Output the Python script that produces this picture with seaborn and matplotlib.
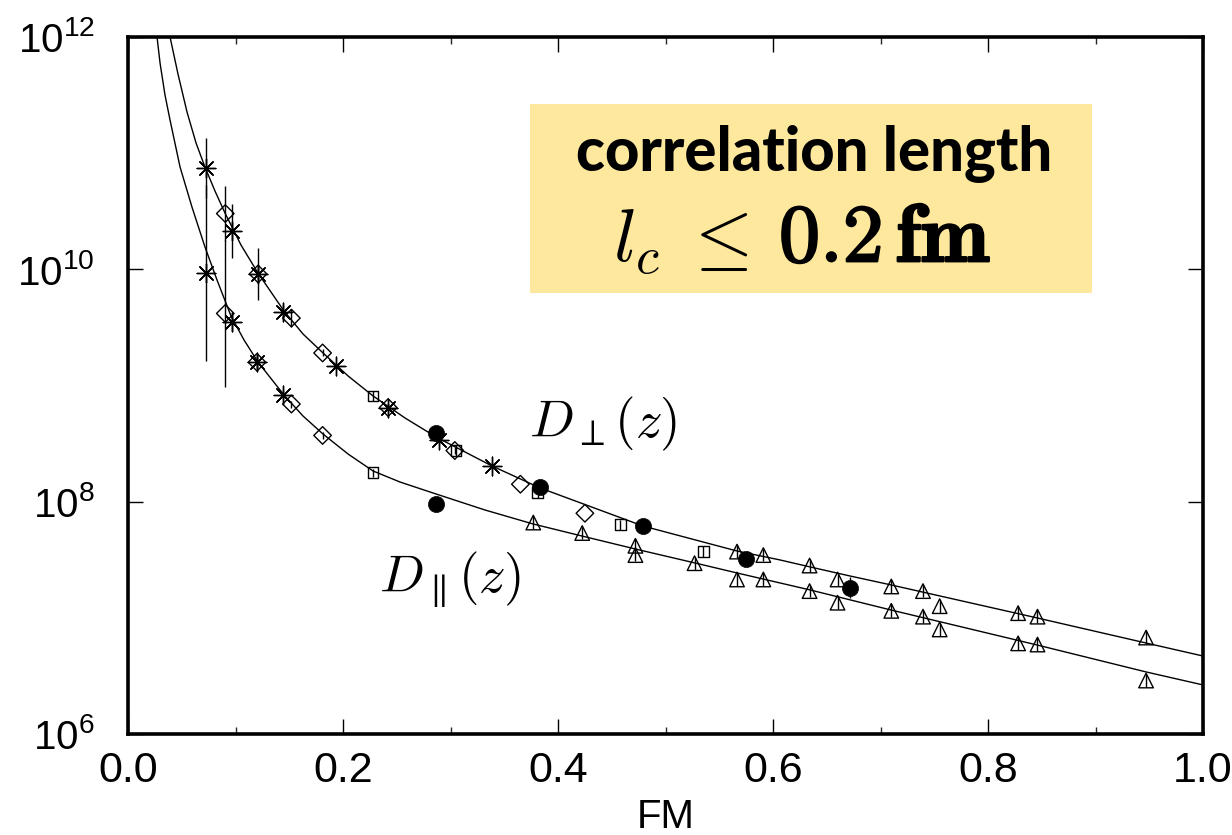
import numpy as np
import pandas as pd
import seaborn as sns
import matplotlib
matplotlib.use("Agg")
import matplotlib.pyplot as plt
import matplotlib.patheffects as pe
from matplotlib.patches import Rectangle
from matplotlib.ticker import FixedLocator, MultipleLocator, LogFormatterMathtext, NullLocator

# ---------------- data (y values stored as log10) ----------------
fit_perp_x = [0.0391, 0.0465, 0.0549, 0.0633, 0.0716, 0.0809, 0.0902, 0.1051, 0.1209, 0.1451,
              0.1628, 0.1814, 0.2047, 0.2279, 0.2577, 0.2865, 0.3386, 0.3833, 0.4791, 0.5665,
              0.6065, 0.6344, 0.6716, 0.7098, 0.8456, 0.9470, 1.0]
fit_perp_logy = [12.000, 11.681, 11.354, 11.087, 10.880, 10.674, 10.485, 10.209, 9.968, 9.641,
                 9.443, 9.280, 9.082, 8.910, 8.720, 8.557, 8.307, 8.118, 7.790, 7.575,
                 7.498, 7.438, 7.360, 7.283, 6.999, 6.783, 6.671]
fit_par_x = [0.0270, 0.0298, 0.0344, 0.0391, 0.0484, 0.0595, 0.0716, 0.0828, 0.0958, 0.1079,
             0.1209, 0.1451, 0.1628, 0.1814, 0.2047, 0.2279, 0.2530, 0.2865, 0.3321, 0.3767,
             0.4223, 0.4716, 0.5274, 0.5665, 0.6065, 0.6344, 0.7098, 0.8456, 0.9470, 1.0]
fit_par_logy = [12.000, 11.776, 11.501, 11.285, 10.881, 10.536, 10.192, 9.908, 9.598, 9.392,
                9.202, 8.918, 8.737, 8.582, 8.410, 8.264, 8.169, 8.066, 7.928, 7.808,
                7.704, 7.593, 7.472, 7.386, 7.300, 7.240, 7.067, 6.766, 6.534, 6.422]

ast_perp_x = [0.0726, 0.0967, 0.121, 0.144, 0.1935, 0.242, 0.289, 0.339]
ast_perp_logy = [10.87, 10.33, 9.96, 9.63, 9.17, 8.81, 8.53, 8.31]
ast_perp_err = [0.26, 0.23, 0.22, 0.06, 0.03, 0.03, 0.03, 0.03]
ast_par_x = [0.0726, 0.0967, 0.120, 0.144]
ast_par_logy = [9.97, 9.55, 9.20, 8.92]
ast_par_err = [0.76, 0.08, 0.07, 0.04]

dia_perp_x = [0.0905, 0.121, 0.152, 0.181, 0.242, 0.304, 0.365, 0.425]
dia_perp_logy = [10.48, 9.96, 9.58, 9.28, 8.81, 8.44, 8.15, 7.90]
dia_perp_err = [0.24, 0.05, 0.08, 0.03, 0.03, 0.03, 0.0, 0.0]
dia_par_x = [0.0905, 0.120, 0.152, 0.181]
dia_par_logy = [9.62, 9.20, 8.84, 8.57]
dia_par_err = [0.63, 0.05, 0.03, 0.03]

sq_perp_x = [0.228, 0.305, 0.381, 0.458, 0.535]
sq_perp_logy = [8.91, 8.44, 8.08, 7.80, 7.57]
sq_par_x = [0.228]
sq_par_logy = [8.25]

circ_perp_x = [0.2865, 0.383, 0.479, 0.575, 0.672]
circ_perp_logy = [8.59, 8.13, 7.79, 7.51, 7.26]
circ_perp_err = [0.0, 0.0, 0.0, 0.0, 0.09]
circ_par_x = [0.2865]
circ_par_logy = [7.98]

tri_perp_x = [0.5665, 0.591, 0.634, 0.660, 0.710, 0.7395, 0.755, 0.828, 0.846, 0.947]
tri_perp_logy = [7.57, 7.54, 7.45, 7.33, 7.27, 7.23, 7.10, 7.04, 7.01, 6.83]
tri_par_x = [0.377, 0.4225, 0.472, 0.472, 0.527, 0.5665, 0.591, 0.634, 0.660, 0.710, 0.7395,
             0.755, 0.828, 0.846, 0.947]
tri_par_logy = [7.82, 7.73, 7.62, 7.54, 7.47, 7.33, 7.33, 7.23, 7.13, 7.06, 7.01,
                6.90, 6.78, 6.77, 6.46]

x_ticks = [0.0, 0.2, 0.4, 0.6, 0.8, 1.0]
x_tick_labels = ["0.0", "0.2", "0.4", "0.6", "0.8", "1.0"]
y_tick_exps = [6, 8, 10, 12]
x_label = "FM"
box_title = "correlation length"
box_formula_left = r"$l_c\;\leq$"
box_formula_right = r"$\mathbf{0.2\,fm}$"
label_perp = r"$D_\perp(z)$"
label_par = r"$D_\parallel(z)$"

# ---------------- style ----------------
sns.set_theme(style="ticks")
tickfont = "Liberation Sans"
plt.rcParams["font.family"] = [tickfont, "DejaVu Sans"]
plt.rcParams["mathtext.fontset"] = "custom"
plt.rcParams["mathtext.rm"] = tickfont
plt.rcParams["mathtext.it"] = tickfont + ":italic"
plt.rcParams["mathtext.bf"] = tickfont + ":bold"

fig = plt.figure(figsize=(12.32, 8.35), dpi=100)
ax = fig.add_axes([0.1039, 0.1210, 0.8726, 0.8347])
ax.set_yscale("log")


def pw(a):
    return 10 ** np.asarray(a, dtype=float)


# fit curves
sns.lineplot(x=fit_perp_x, y=pw(fit_perp_logy), color="black", lw=1.0, sort=False,
             estimator=None, ax=ax)
sns.lineplot(x=fit_par_x, y=pw(fit_par_logy), color="black", lw=1.0, sort=False,
             estimator=None, ax=ax)


def errbars(xs, logy, err):
    logy = np.asarray(logy, float)
    err = np.asarray(err, float)
    y = 10 ** logy
    lo = y - 10 ** (logy - err)
    hi = 10 ** (logy + err) - y
    ax.errorbar(xs, y, yerr=[lo, hi], fmt="none", ecolor="black", elinewidth=1.0, capsize=0,
                zorder=3)


errbars(ast_perp_x, ast_perp_logy, ast_perp_err)
errbars(ast_par_x, ast_par_logy, ast_par_err)
errbars(dia_perp_x, dia_perp_logy, dia_perp_err)
errbars(dia_par_x, dia_par_logy, dia_par_err)
errbars(circ_perp_x, circ_perp_logy, circ_perp_err)
errbars(sq_perp_x, sq_perp_logy, [0.045] * len(sq_perp_x))
errbars(sq_par_x, sq_par_logy, [0.035] * len(sq_par_x))
errbars(tri_perp_x, tri_perp_logy, [0.055] * len(tri_perp_x))
errbars(tri_par_x, tri_par_logy, [0.055] * len(tri_par_x))

open_kw = dict(facecolor="none", edgecolor="black", linewidth=1.0, ax=ax, zorder=4, legend=False)

for xs, ly in [(ast_perp_x, ast_perp_logy), (ast_par_x, ast_par_logy)]:
    sns.scatterplot(x=xs, y=pw(ly), marker=(8, 2, 0), s=180, color="black", linewidth=1.0,
                    ax=ax, zorder=4, legend=False)
for xs, ly in [(dia_perp_x, dia_perp_logy), (dia_par_x, dia_par_logy)]:
    sns.scatterplot(x=xs, y=pw(ly), marker="D", s=80, **open_kw)
for xs, ly in [(sq_perp_x, sq_perp_logy), (sq_par_x, sq_par_logy)]:
    sns.scatterplot(x=xs, y=pw(ly), marker="s", s=60, **open_kw)
for xs, ly in [(tri_perp_x, tri_perp_logy), (tri_par_x, tri_par_logy)]:
    sns.scatterplot(x=xs, y=pw(ly), marker="^", s=110, **open_kw)
for xs, ly in [(circ_perp_x, circ_perp_logy), (circ_par_x, circ_par_logy)]:
    sns.scatterplot(x=xs, y=pw(ly), marker="o", s=135, color="black", edgecolor="black",
                    linewidth=0.5, ax=ax, zorder=5, legend=False)

# axes
ax.set_xlim(0.0, 1.0)
ax.set_ylim(1e6, 1e12)
ax.xaxis.set_major_locator(FixedLocator(x_ticks))
ax.set_xticklabels(x_tick_labels)
ax.xaxis.set_minor_locator(MultipleLocator(0.1))
ax.yaxis.set_major_locator(FixedLocator([10.0 ** e for e in y_tick_exps]))
ax.yaxis.set_major_formatter(LogFormatterMathtext())
ax.yaxis.set_minor_locator(NullLocator())

ax.tick_params(axis="x", which="major", direction="in", length=11, width=1.0, top=True,
               labelsize=31, pad=12, colors="black")
ax.tick_params(axis="x", which="minor", direction="in", length=5, width=1.0, top=True)
ax.tick_params(axis="y", which="major", direction="in", length=11, width=1.0, right=True,
               labelsize=29, pad=24, colors="black")
for sp in ax.spines.values():
    sp.set_linewidth(2.6)
    sp.set_color("black")
    sp.set_visible(True)

ax.set_xlabel(x_label, fontsize=29, color="black")
ax.xaxis.set_label_coords(0.5, -0.092)
ax.set_ylabel("")
ax.set_facecolor("white")
fig.patch.set_facecolor("white")

# annotation box
ax.add_patch(Rectangle((0.374, 0.633), 0.523, 0.271, transform=ax.transAxes,
                       facecolor="#FDE89D", edgecolor="none", zorder=1))
ax.text(0.638, 0.832, box_title, transform=ax.transAxes, ha="center", va="center",
        fontsize=43, fontweight="black", family=["Lato", "DejaVu Sans"], color="black", zorder=2)
ax.text(0.5767, 0.677, box_formula_left, transform=ax.transAxes, ha="right", va="baseline",
        fontsize=54, math_fontfamily="cm", color="black", zorder=2)
ax.text(0.6056, 0.677, box_formula_right, transform=ax.transAxes, ha="left", va="baseline",
        fontsize=59, math_fontfamily="cm", color="black", zorder=2,
        path_effects=[pe.withStroke(linewidth=1.6, foreground="black")])

ax.text(0.442, 0.445, label_perp, transform=ax.transAxes, ha="center", va="center",
        fontsize=38, math_fontfamily="cm", color="black", zorder=6)
ax.text(0.299, 0.222, label_par, transform=ax.transAxes, ha="center", va="center",
        fontsize=38, math_fontfamily="cm", color="black", zorder=6)

fig.savefig("out.png", dpi=100, facecolor="white")
